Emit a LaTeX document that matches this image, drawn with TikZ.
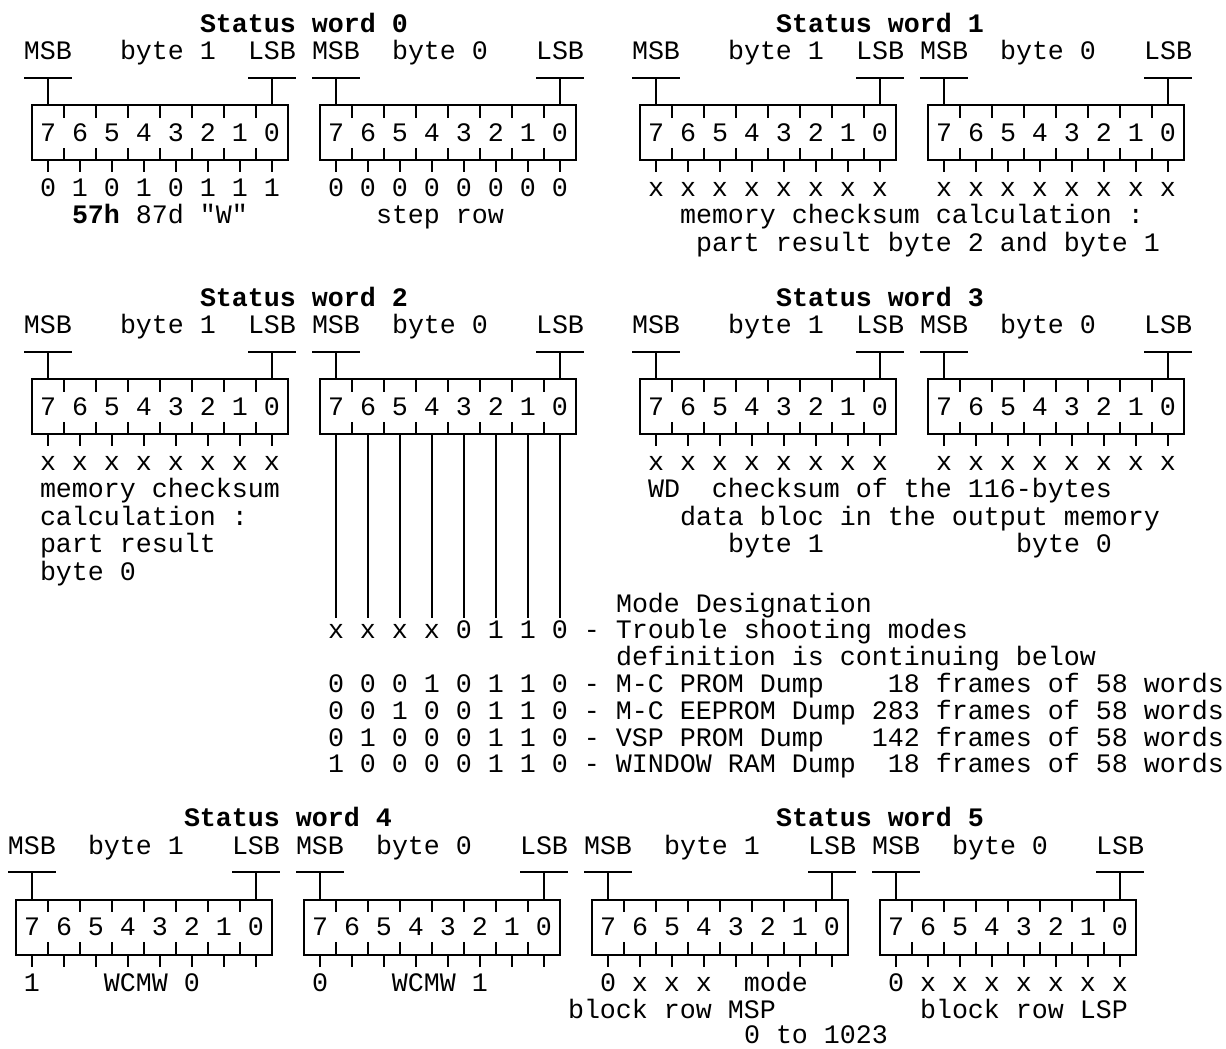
\documentclass[tikz,border=0pt]{standalone}
\usepackage{fontspec}
\setmonofont{Liberation Mono}
\frenchspacing

\tikzset{
  mono/.style={font=\ttfamily\fontsize{13.33pt}{13.7pt}\selectfont},
  bits/.style={mono,draw,rectangle,minimum width=128pt,minimum height=27.4pt,inner sep=0pt,outer sep=0pt},
  txt/.style={mono,anchor=base west,inner sep=0pt,outer sep=0pt},
  ttl/.style={txt,font=\ttfamily\bfseries\fontsize{13.33pt}{13.7pt}\selectfont}
}

\begin{document}
\begin{tikzpicture}[x=8pt,y=-13.7pt,line width=1pt]
\useasboundingbox (0,0) rectangle (76.625,38.25);
% name / first column / digit row / byte label offset / byte number / tick length
\foreach \nm/\cx/\ry/\bo/\bn/\tk in {sw0_b1/1/4/6/1/0.45, sw0_b0/19/4/5/0/0.45, sw1_b1/39/4/6/1/0.45, sw1_b0/57/4/5/0/0.45,
    sw2_b1/1/14/6/1/0.45, sw2_b0/19/14/5/0/6.7, sw3_b1/39/14/6/1/0.45, sw3_b0/57/14/5/0/0.45,
    sw4_b1/0/33/5/1/0.45, sw4_b0/18/33/5/0/0.45, sw5_b1/36/33/5/1/0.45, sw5_b0/54/33/5/0/0.45} {
  \node[bits] (\nm) at (\cx+9,\ry+0.839) {7 6 5 4 3 2 1 0};
  \node[txt] (\nm_msb) at (\cx+0.5,\ry-1.83) {MSB};
  \node[txt] (\nm_lbl) at (\cx+\bo+0.5,\ry-1.83) {byte \bn};
  \node[txt] (\nm_lsb) at (\cx+14.5,\ry-1.83) {LSB};
  \draw (\nm.north west) ++(1,0) -- ++(0,-1) ++(-1.5,0) -- ++(3,0);
  \draw (\nm.north east) ++(-1,0) -- ++(0,-1) ++(-1.5,0) -- ++(3,0);
  \foreach \i in {2,4,...,14}
    \draw (\nm.north west) ++(\i,0) -- ++(0,0.45) (\nm.south west) ++(\i,0) -- ++(0,-0.45);
  \foreach \i in {1,3,...,15}
    \draw (\nm.south west) ++(\i,0) -- ++(0,\tk);
}

\node[ttl] (sw0_title) at (12.5,1.17) {Status word 0};
\node[ttl] (sw1_title) at (48.5,1.17) {Status word 1};
\node[txt] (sw0_b1_val) at (2.5,7.17) {0 1 0 1 0 1 1 1};
\node[txt] (sw0_b0_val) at (20.5,7.17) {0 0 0 0 0 0 0 0};
\node[txt] (sw1_b1_val) at (40.5,7.17) {x x x x x x x x};
\node[txt] (sw1_b0_val) at (58.5,7.17) {x x x x x x x x};
\node[txt] (sw0_b1_txt) at (4.5,8.17) {\textbf{57h} 87d "W"};
\node[txt] (sw0_b0_txt) at (23.5,8.17) {step row};
\node[txt] (sw1_txt_a) at (42.5,8.17) {memory checksum calculation :};
\node[txt] (sw1_txt_b) at (43.5,9.17) {part result byte 2 and byte 1};

\node[ttl] (sw2_title) at (12.5,11.17) {Status word 2};
\node[ttl] (sw3_title) at (48.5,11.17) {Status word 3};
\node[txt] (sw2_b1_val) at (2.5,17.17) {x x x x x x x x};
\node[txt] (sw3_b1_val) at (40.5,17.17) {x x x x x x x x};
\node[txt] (sw3_b0_val) at (58.5,17.17) {x x x x x x x x};
\node[txt] (sw2_txt_a) at (2.5,18.17) {memory checksum};
\node[txt] (sw2_txt_b) at (2.5,19.17) {calculation :};
\node[txt] (sw2_txt_c) at (2.5,20.17) {part result};
\node[txt] (sw2_txt_d) at (2.5,21.17) {byte 0};
\node[txt] (sw3_txt_a) at (40.5,18.17) {WD~~checksum of the 116-bytes};
\node[txt] (sw3_txt_b) at (42.5,19.17) {data bloc in the output memory};
\node[txt] (sw3_txt_c) at (45.5,20.17) {byte 1};
\node[txt] (sw3_txt_d) at (63.5,20.17) {byte 0};

\node[txt] (mode_head) at (38.5,22.34) {Mode Designation};
\node[txt] (mode_ts) at (20.5,23.31) {x x x x 0 1 1 0 - Trouble shooting modes};
\node[txt] (mode_note) at (38.5,24.29) {definition is continuing below};
\node[txt] (mode_mcp) at (20.5,25.27) {0 0 0 1 0 1 1 0 - M-C PROM Dump~~~~18 frames of 58 words};
\node[txt] (mode_mce) at (20.5,26.25) {0 0 1 0 0 1 1 0 - M-C EEPROM Dump 283 frames of 58 words};
\node[txt] (mode_vsp) at (20.5,27.23) {0 1 0 0 0 1 1 0 - VSP PROM Dump~~~142 frames of 58 words};
\node[txt] (mode_win) at (20.5,28.2) {1 0 0 0 0 1 1 0 - WINDOW RAM Dump~~18 frames of 58 words};

\node[ttl] (sw4_title) at (11.5,30.17) {Status word 4};
\node[ttl] (sw5_title) at (48.5,30.17) {Status word 5};
\node[txt] (sw4_b1_val) at (1.5,36.17) {1~~~~WCMW 0};
\node[txt] (sw4_b0_val) at (19.5,36.17) {0~~~~WCMW 1};
\node[txt] (sw5_b1_val) at (37.5,36.17) {0 x x x~~mode};
\node[txt] (sw5_b0_val) at (55.5,36.17) {0 x x x x x x x};
\node[txt] (sw5_txt_a) at (35.5,37.17) {block row MSP};
\node[txt] (sw5_txt_b) at (57.5,37.17) {block row LSP};
\node[txt] (sw5_txt_c) at (46.5,38.1) {0 to 1023};
\end{tikzpicture}
\end{document}
